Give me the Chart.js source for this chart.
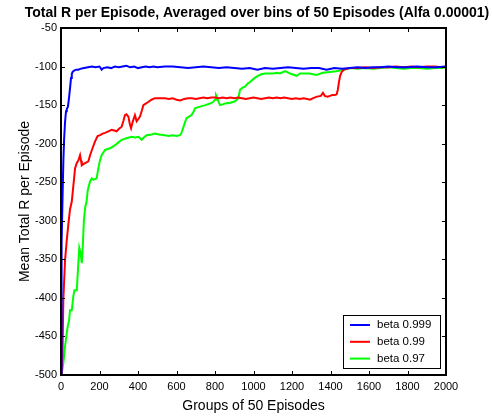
<!DOCTYPE html>
<html lang="en">
<head>
  <meta charset="UTF-8" />
  <title>Total R per Episode</title>
  <style>
    body {
      margin: 0;
      background-color: #ffffff;
    }
    .wrap {
      width: 492px;
      height: 418px;
      position: relative;
    }
  </style>
</head>
<body>
  <div class="wrap">
    <canvas id="rewardChart" width="492" height="418"></canvas>
  </div>

  <script src="https://cdn.jsdelivr.net/npm/chart.js"></script>
  <script>
    // values: [group of 50 episodes, mean total R]
    const titleText = "Total R per Episode, Averaged over bins of 50 Episodes (Alfa 0.00001)";
    const seriesNames = ["beta 0.999", "beta 0.99", "beta 0.97"];
    const xTicks = [0, 200, 400, 600, 800, 1000, 1200, 1400, 1600, 1800, 2000];
    const yTicks = [-500, -450, -400, -350, -300, -250, -200, -150, -100, -50];

    const beta999 = [
      [0,-500],[2,-420],[4,-330],[8,-270],[12,-225],[16,-195],[21,-172],[26,-158],[30,-155],[36,-152],
      [42,-140],[47,-128],[52,-115],[56,-110],[60,-107],[64,-106],[70,-105],[80,-104],[90,-104],[100,-103],
      [120,-102],[140,-101],[160,-100],[180,-101],[200,-100],[211,-104],[220,-102],[240,-101],[260,-102],[280,-100],
      [300,-101],[320,-100],[340,-99],[360,-101],[380,-100],[400,-102],[420,-101],[440,-100],[460,-101],[480,-100],
      [500,-101],[540,-100],[580,-100],[620,-101],[660,-102],[700,-101],[740,-100],[780,-101],[820,-102],[860,-101],
      [900,-102],[940,-103],[980,-102],[1020,-104],[1060,-102],[1100,-103],[1140,-102],[1180,-101],[1220,-102],[1260,-103],
      [1300,-102],[1340,-102],[1380,-104],[1420,-102],[1460,-103],[1500,-102],[1540,-101],[1580,-102],[1620,-101],[1660,-101],
      [1700,-100],[1750,-101],[1800,-101],[1850,-100],[1900,-101],[1950,-101],[2000,-100]
    ];

    const beta99 = [
      [0,-500],[4,-489],[8,-471],[12,-403],[21,-351],[30,-325],[38,-305],[47,-285],[56,-275],[64,-255],
      [73,-232],[82,-225],[90,-222],[99,-215],[104,-222],[108,-228],[120,-226],[135,-224],[142,-223],[151,-215],
      [165,-205],[177,-197],[190,-190],[203,-189],[216,-187],[229,-186],[246,-184],[263,-182],[276,-183],[289,-184],
      [300,-181],[315,-178],[325,-170],[332,-163],[340,-162],[350,-165],[358,-175],[364,-180],[372,-172],[384,-163],
      [393,-171],[402,-168],[410,-165],[420,-157],[428,-150],[440,-148],[453,-146],[470,-143],[488,-141],[510,-141],
      [540,-141],[560,-142],[580,-141],[600,-143],[620,-144],[640,-142],[660,-141],[680,-141],[700,-142],[720,-141],
      [740,-140],[760,-141],[780,-140],[800,-140],[820,-141],[840,-140],[860,-141],[880,-140],[900,-141],[920,-140],
      [940,-141],[960,-142],[980,-141],[1000,-140],[1020,-141],[1040,-142],[1060,-141],[1080,-140],[1100,-141],[1120,-140],
      [1140,-141],[1160,-140],[1180,-141],[1200,-142],[1220,-141],[1240,-142],[1260,-141],[1280,-142],[1294,-143],[1310,-141],
      [1330,-139],[1350,-138],[1361,-134],[1370,-138],[1385,-139],[1397,-138],[1410,-137],[1422,-137],[1432,-136],[1438,-130],
      [1444,-120],[1450,-112],[1458,-107],[1470,-104],[1484,-103],[1500,-102],[1540,-102],[1580,-101],[1620,-102],[1660,-101],
      [1700,-101],[1740,-100],[1780,-101],[1820,-100],[1860,-101],[1900,-100],[1940,-100],[1980,-101],[2000,-100]
    ];

    const beta97 = [
      [0,-500],[4,-498],[12,-485],[21,-463],[30,-445],[35,-437],[42,-429],[47,-416],[56,-416],[64,-398],
      [70,-390],[82,-390],[90,-355],[95,-335],[102,-342],[108,-355],[113,-334],[119,-299],[126,-282],[133,-275],
      [138,-262],[142,-257],[151,-249],[160,-245],[168,-247],[185,-245],[194,-232],[202,-222],[211,-215],[229,-208],
      [255,-206],[281,-202],[300,-198],[315,-195],[340,-193],[367,-191],[385,-192],[402,-191],[419,-195],[430,-192],
      [445,-189],[470,-188],[488,-187],[510,-188],[540,-189],[560,-190],[580,-189],[600,-190],[618,-189],[626,-186],
      [634,-180],[643,-173],[652,-167],[665,-165],[678,-163],[690,-158],[696,-154],[722,-152],[750,-150],[774,-148],
      [790,-146],[800,-143],[805,-137],[809,-139],[813,-142],[817,-145],[826,-150],[840,-149],[852,-148],[880,-147],
      [904,-145],[921,-141],[930,-130],[945,-127],[956,-126],[970,-122],[982,-120],[1000,-116],[1016,-113],[1040,-110],
      [1060,-109],[1080,-109],[1103,-109],[1120,-108],[1138,-109],[1164,-106],[1190,-109],[1224,-112],[1242,-109],[1270,-109],
      [1290,-109],[1328,-111],[1360,-108],[1397,-107],[1430,-106],[1475,-104],[1500,-102],[1540,-103],[1580,-102],[1620,-103],
      [1660,-102],[1700,-101],[1740,-102],[1780,-103],[1820,-102],[1860,-102],[1900,-103],[1940,-102],[1980,-102],[2000,-101]
    ];

    const seriesData = [beta999, beta99, beta97];
    const seriesColors = ["#0000ff", "#ff0000", "#00ff00"];

    const fontFamily = "'Liberation Sans', Arial, sans-serif";

    // matlab style: box around plot, ticks pointing inward on all sides, title + legend in plot
    const matlabBox = {
      id: "matlabBox",
      afterDraw(chart) {
        const { ctx, chartArea: a, scales } = chart;
        const len = 4;
        ctx.save();
        ctx.strokeStyle = "#000000";
        ctx.lineWidth = 1;
        ctx.beginPath();
        xTicks.forEach(v => {
          const px = Math.round(scales.x.getPixelForValue(v)) + 0.5;
          ctx.moveTo(px, a.bottom); ctx.lineTo(px, a.bottom - len);
          ctx.moveTo(px, a.top); ctx.lineTo(px, a.top + len);
        });
        yTicks.forEach(v => {
          const py = Math.round(scales.y.getPixelForValue(v)) + 0.5;
          ctx.moveTo(a.left, py); ctx.lineTo(a.left + len, py);
          ctx.moveTo(a.right, py); ctx.lineTo(a.right - len, py);
        });
        ctx.stroke();

        ctx.lineWidth = 2;
        ctx.strokeRect(a.left, a.top, a.right - a.left, a.bottom - a.top);

        // title
        ctx.fillStyle = "#000000";
        ctx.font = "bold 14px " + fontFamily;
        ctx.textAlign = "center";
        ctx.textBaseline = "middle";
        ctx.fillText(titleText, 257, 13);

        // legend box, lower right
        const bw = 97, bh = 53;
        const bx = a.right - 6 - bw, by = a.bottom - 7 - bh;
        ctx.fillStyle = "#ffffff";
        ctx.fillRect(bx, by, bw, bh);
        ctx.lineWidth = 1;
        ctx.strokeStyle = "#000000";
        ctx.strokeRect(bx + 0.5, by + 0.5, bw, bh);
        ctx.font = "11.5px " + fontFamily;
        ctx.textAlign = "left";
        seriesNames.forEach((name, i) => {
          const ly = by + 10 + i * 16.8;
          ctx.strokeStyle = seriesColors[i];
          ctx.lineWidth = 2;
          ctx.beginPath();
          ctx.moveTo(bx + 7, ly);
          ctx.lineTo(bx + 27, ly);
          ctx.stroke();
          ctx.fillStyle = "#000000";
          ctx.fillText(name, bx + 34, ly);
        });
        ctx.restore();
      }
    };

    const ctx = document.getElementById("rewardChart").getContext("2d");
    const chart = new Chart(ctx, {
      type: "line",
      data: {
        datasets: seriesNames.map((name, i) => ({
          label: name,
          data: seriesData[i].map(p => ({ x: p[0], y: p[1] })),
          borderColor: seriesColors[i],
          backgroundColor: seriesColors[i],
          borderWidth: 2,
          pointRadius: 0,
          tension: 0,
          fill: false
        }))
      },
      options: {
        responsive: false,
        animation: false,
        layout: { padding: { top: 28, right: 46, left: 0, bottom: 0 } },
        plugins: {
          legend: { display: false },
          title: { display: false },
          tooltip: { enabled: false }
        },
        scales: {
          x: {
            type: "linear",
            min: 0,
            max: 2000,
            afterFit: s => { s.height = 43; },
            afterBuildTicks: s => { s.ticks = xTicks.map(v => ({ value: v })); },
            grid: { display: false, drawTicks: false },
            border: { display: false },
            ticks: {
              color: "#000000",
              padding: 5,
              maxRotation: 0,
              font: { family: fontFamily, size: 11 },
              callback: v => String(v)
            },
            title: {
              display: true,
              text: "Groups of 50 Episodes",
              color: "#000000",
              padding: { top: 0, bottom: 3 },
              font: { family: fontFamily, size: 14 }
            }
          },
          y: {
            min: -500,
            max: -50,
            afterFit: s => { s.width = 61; },
            afterBuildTicks: s => { s.ticks = yTicks.map(v => ({ value: v })); },
            grid: { display: false, drawTicks: false },
            border: { display: false },
            ticks: {
              color: "#000000",
              padding: 4,
              font: { family: fontFamily, size: 11 },
              callback: v => String(v)
            },
            title: {
              display: true,
              text: "Mean Total R per Episode",
              color: "#000000",
              padding: { top: 17, bottom: 0 },
              font: { family: fontFamily, size: 14 }
            }
          }
        }
      },
      plugins: [matlabBox]
    });
  </script>
</body>
</html>
